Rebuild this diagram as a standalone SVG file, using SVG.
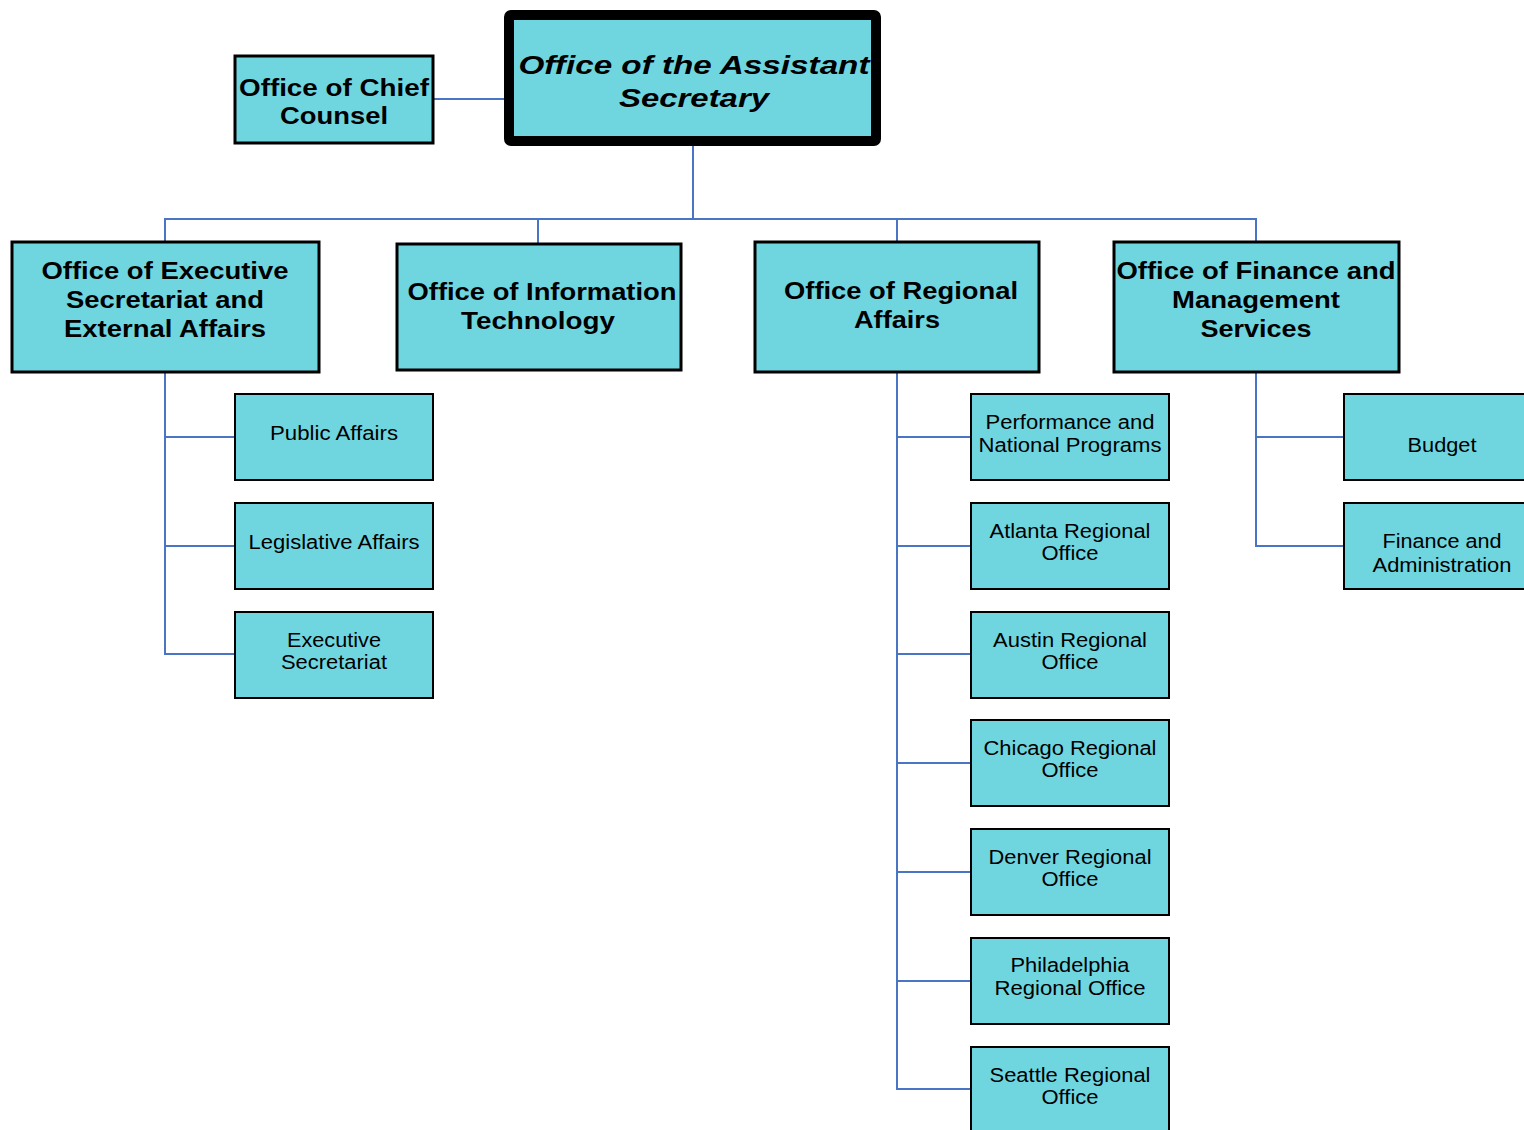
<svg xmlns="http://www.w3.org/2000/svg" width="1524" height="1130" viewBox="0 0 1524 1130">
<style>
.box{fill:#6FD6E0;stroke:#000;stroke-width:2}
.l2{fill:#6FD6E0;stroke:#000;stroke-width:3}
.top{fill:#6FD6E0;stroke:#000;stroke-width:10}
.conn{fill:none;stroke:#4A74C4;stroke-width:2}
text{font-family:"Liberation Sans",Arial,sans-serif;fill:#000;text-anchor:middle}
.t1{font-size:26px;font-weight:bold;font-style:italic}
.t2{font-size:24px;font-weight:bold}
.t3{font-size:20px}
</style>
<rect width="1524" height="1130" fill="#fff"/>
<g id="connectors">
<path class="conn" d="M433 99H515"/>
<path class="conn" d="M693 141V219"/>
<path class="conn" d="M165 241V219H1256V241"/>
<path class="conn" d="M538 219V243"/>
<path class="conn" d="M897 219V241"/>
<path class="conn" d="M165 372V654H234M165 437H234M165 546H234"/>
<path class="conn" d="M897 372V1089H971M897 437H971M897 546H971M897 654H971M897 763H971M897 872H971M897 981H971"/>
<path class="conn" d="M1256 372V546H1343M1256 437H1343"/>
</g>
<g id="assistant-secretary">
<rect class="top" x="509" y="15" width="367" height="126" rx="2"/>
<text class="t1" x="694" y="74" textLength="351" lengthAdjust="spacingAndGlyphs">Office of the Assistant</text>
<text class="t1" x="694" y="107" textLength="150" lengthAdjust="spacingAndGlyphs">Secretary</text>
</g>
<g id="chief-counsel">
<rect class="l2" x="235" y="56" width="198" height="87"/>
<text class="t2" x="334" y="96" textLength="190" lengthAdjust="spacingAndGlyphs">Office of Chief</text>
<text class="t2" x="334" y="124" textLength="108" lengthAdjust="spacingAndGlyphs">Counsel</text>
</g>
<g id="exec-secretariat">
<rect class="l2" x="12" y="242" width="307" height="130"/>
<text class="t2" x="165" y="279" textLength="247" lengthAdjust="spacingAndGlyphs">Office of Executive</text>
<text class="t2" x="165" y="308" textLength="198" lengthAdjust="spacingAndGlyphs">Secretariat and</text>
<text class="t2" x="165" y="337" textLength="202" lengthAdjust="spacingAndGlyphs">External Affairs</text>
</g>
<g id="info-tech">
<rect class="l2" x="397" y="244" width="284" height="126"/>
<text class="t2" x="542" y="300" textLength="269" lengthAdjust="spacingAndGlyphs">Office of Information</text>
<text class="t2" x="538" y="329" textLength="154" lengthAdjust="spacingAndGlyphs">Technology</text>
</g>
<g id="regional-affairs">
<rect class="l2" x="755" y="242" width="284" height="130"/>
<text class="t2" x="901" y="299" textLength="234" lengthAdjust="spacingAndGlyphs">Office of Regional</text>
<text class="t2" x="897" y="328" textLength="86" lengthAdjust="spacingAndGlyphs">Affairs</text>
</g>
<g id="finance-mgmt">
<rect class="l2" x="1114" y="242" width="285" height="130"/>
<text class="t2" x="1256" y="279" textLength="279" lengthAdjust="spacingAndGlyphs">Office of Finance and</text>
<text class="t2" x="1256" y="308" textLength="168" lengthAdjust="spacingAndGlyphs">Management</text>
<text class="t2" x="1256" y="337" textLength="111" lengthAdjust="spacingAndGlyphs">Services</text>
</g>
<g id="public-affairs">
<rect class="box" x="235" y="394" width="198" height="86"/>
<text class="t3" x="334" y="440" textLength="128" lengthAdjust="spacingAndGlyphs">Public Affairs</text>
</g>
<g id="legislative-affairs">
<rect class="box" x="235" y="503" width="198" height="86"/>
<text class="t3" x="334" y="549" textLength="171" lengthAdjust="spacingAndGlyphs">Legislative Affairs</text>
</g>
<g id="executive-secretariat">
<rect class="box" x="235" y="612" width="198" height="86"/>
<text class="t3" x="334" y="647" textLength="94" lengthAdjust="spacingAndGlyphs">Executive</text>
<text class="t3" x="334" y="669" textLength="106" lengthAdjust="spacingAndGlyphs">Secretariat</text>
</g>
<g id="performance">
<rect class="box" x="971" y="394" width="198" height="86"/>
<text class="t3" x="1070" y="429" textLength="169" lengthAdjust="spacingAndGlyphs">Performance and</text>
<text class="t3" x="1070" y="452" textLength="183" lengthAdjust="spacingAndGlyphs">National Programs</text>
</g>
<g id="atlanta">
<rect class="box" x="971" y="503" width="198" height="86"/>
<text class="t3" x="1070" y="538" textLength="161" lengthAdjust="spacingAndGlyphs">Atlanta Regional</text>
<text class="t3" x="1070" y="560" textLength="57" lengthAdjust="spacingAndGlyphs">Office</text>
</g>
<g id="austin">
<rect class="box" x="971" y="612" width="198" height="86"/>
<text class="t3" x="1070" y="647" textLength="154" lengthAdjust="spacingAndGlyphs">Austin Regional</text>
<text class="t3" x="1070" y="669" textLength="57" lengthAdjust="spacingAndGlyphs">Office</text>
</g>
<g id="chicago">
<rect class="box" x="971" y="720" width="198" height="86"/>
<text class="t3" x="1070" y="755" textLength="173" lengthAdjust="spacingAndGlyphs">Chicago Regional</text>
<text class="t3" x="1070" y="777" textLength="57" lengthAdjust="spacingAndGlyphs">Office</text>
</g>
<g id="denver">
<rect class="box" x="971" y="829" width="198" height="86"/>
<text class="t3" x="1070" y="864" textLength="163" lengthAdjust="spacingAndGlyphs">Denver Regional</text>
<text class="t3" x="1070" y="886" textLength="57" lengthAdjust="spacingAndGlyphs">Office</text>
</g>
<g id="philadelphia">
<rect class="box" x="971" y="938" width="198" height="86"/>
<text class="t3" x="1070" y="972" textLength="119" lengthAdjust="spacingAndGlyphs">Philadelphia</text>
<text class="t3" x="1070" y="995" textLength="151" lengthAdjust="spacingAndGlyphs">Regional Office</text>
</g>
<g id="seattle">
<rect class="box" x="971" y="1047" width="198" height="86"/>
<text class="t3" x="1070" y="1082" textLength="161" lengthAdjust="spacingAndGlyphs">Seattle Regional</text>
<text class="t3" x="1070" y="1104" textLength="57" lengthAdjust="spacingAndGlyphs">Office</text>
</g>
<g id="budget">
<rect class="box" x="1344" y="394" width="198" height="86"/>
<text class="t3" x="1442" y="452" textLength="69" lengthAdjust="spacingAndGlyphs">Budget</text>
</g>
<g id="finance-admin">
<rect class="box" x="1344" y="503" width="198" height="86"/>
<text class="t3" x="1442" y="548" textLength="119" lengthAdjust="spacingAndGlyphs">Finance and</text>
<text class="t3" x="1442" y="572" textLength="139" lengthAdjust="spacingAndGlyphs">Administration</text>
</g>
</svg>
